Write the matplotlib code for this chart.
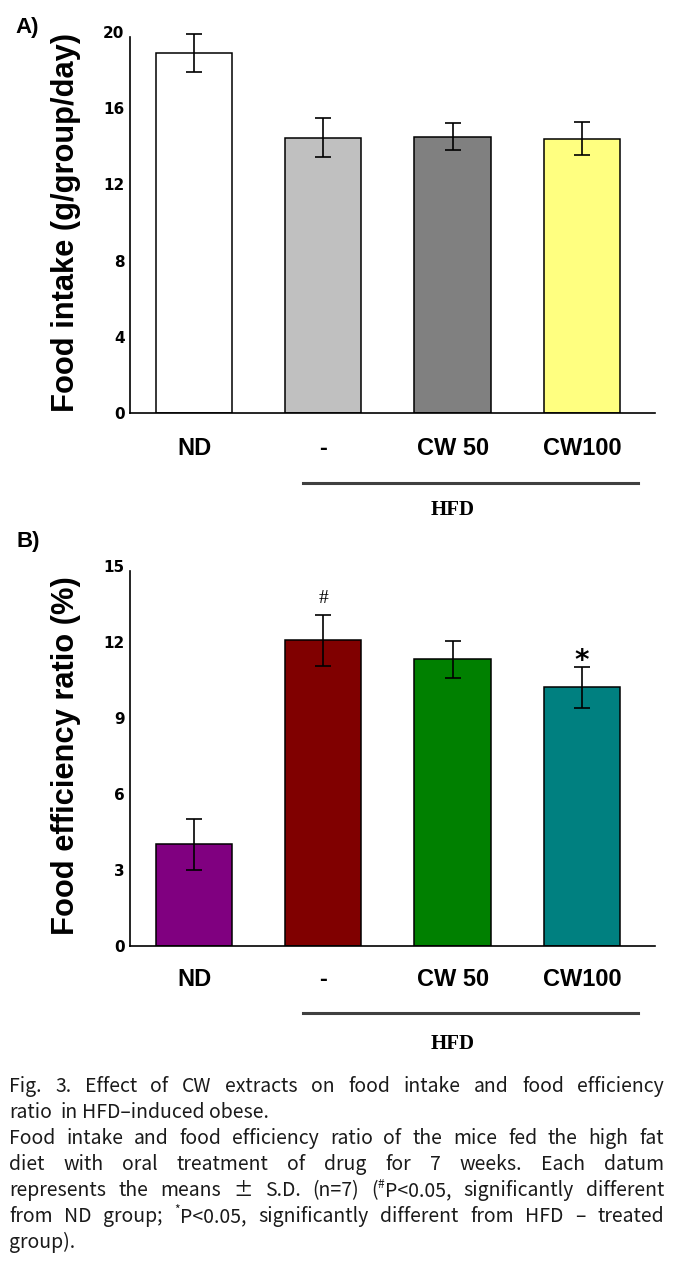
import matplotlib
matplotlib.use('Agg')
import matplotlib.pyplot as plt
import numpy as np

# data
groups = ['ND', '-', 'CW 50', 'CW100']
intake = [18.9, 14.45, 14.5, 14.4]
intake_sd = [1.0, 1.02, 0.7, 0.85]
fer = [4.0, 12.05, 11.3, 10.2]
fer_sd = [1.0, 1.02, 0.74, 0.82]
intake_colors = ['#ffffff', '#c0c0c0', '#808080', '#ffff80']
fer_colors = ['#800080', '#800000', '#008000', '#008080']
intake_ticks = [0, 4, 8, 12, 16, 20]
fer_ticks = [0, 3, 6, 9, 12, 15]

caption = [
    "Fig. 3. Effect of CW extracts on food intake and food efficiency",
    "ratio  in HFD\u2013induced obese.",
    "Food intake and food efficiency ratio of the mice fed the high fat",
    "diet with oral treatment of drug for 7 weeks. Each datum",
    "represents the means \u00b1 S.D. (n=7) (^#P<0.05, significantly different",
    "from ND group; ^*P<0.05, significantly different from HFD \u2013 treated",
    "group).",
]
justified = [True, False, True, True, True, True, False]

W_PX, H_PX = 673, 1261
fig = plt.figure(figsize=(W_PX / 100, H_PX / 100), dpi=100)
SANS = 'Liberation Sans'


def panel(ax, vals, sds, colors, ticks, spine_top, ylabel, lab_y, line_y, hfd_y):
    x = np.arange(len(groups))
    ax.bar(x, vals, width=0.59, color=colors, edgecolor='black', linewidth=1.1, zorder=2)
    ax.errorbar(x, vals, yerr=sds, fmt='none', ecolor='black', elinewidth=1.2,
                capsize=5.5, capthick=1.2, zorder=3)
    ax.set_xlim(-0.495, 3.565)
    ax.set_ylim(0, ticks[-1])
    ax.set_yticks(ticks)
    ax.set_xticks([])
    for s in ['top', 'right']:
        ax.spines[s].set_visible(False)
    ax.spines['left'].set_bounds(0, spine_top)
    ax.spines['left'].set_linewidth(1.2)
    ax.spines['bottom'].set_linewidth(1.2)
    ax.tick_params(axis='y', length=0, pad=4, labelsize=11)
    for lab in ax.get_yticklabels():
        lab.set_fontweight('bold')
        lab.set_family('DejaVu Sans')
    ax.set_ylabel(ylabel, fontsize=22.2, fontweight='bold', family=SANS)
    ax.yaxis.set_label_coords(-0.093, 0.5)
    tr = ax.get_xaxis_transform()
    for xi, g in zip(x, groups):
        ax.text(xi, lab_y, g, transform=tr, ha='center', va='center',
                fontsize=17, fontweight='bold', family=SANS)
    ax.plot([0.843, 3.43], [line_y, line_y], transform=tr, clip_on=False,
            color='#404040', lw=2.2)
    ax.text(2.0, hfd_y, 'HFD', transform=tr, ha='center', va='center',
            fontsize=15, fontweight='bold', family='Liberation Serif')


axA = fig.add_axes([130 / W_PX, 1 - 413 / H_PX, 525 / W_PX, 381 / H_PX])
panel(axA, intake, intake_sd, intake_colors, intake_ticks, 19.75,
      'Food intake (g/group/day)', -0.092, -0.184, -0.255)

axB = fig.add_axes([130 / W_PX, 1 - 945.7 / H_PX, 525 / W_PX, 380 / H_PX])
panel(axB, fer, fer_sd, fer_colors, fer_ticks, 14.8,
      'Food efficiency ratio (%)', -0.089, -0.177, -0.258)
axB.text(1, 13.52, '#', ha='center', va='baseline', fontsize=14,
         family='Liberation Serif')
axB.text(3, 10.94, '*', ha='center', va='baseline', fontsize=20,
         fontweight='bold', family='DejaVu Sans')

fig.text(15 / W_PX, 1 - 27 / H_PX, 'A)', fontsize=16, fontweight='bold',
         family=SANS, va='center')
fig.text(17 / W_PX, 1 - 541 / H_PX, 'B)', fontsize=16, fontweight='bold',
         family=SANS, va='center')

# caption, justified word by word
cap_font = ['Noto Sans CJK KR', 'DejaVu Sans']
cap_size = 14
renderer = fig.canvas.get_renderer()


def measure(s, size):
    if not s:
        return 0.0
    t = fig.text(0, 0, s, fontsize=size, family=cap_font)
    w = t.get_window_extent(renderer).width
    t.remove()
    return w


def segments(word):
    parts = word.split('^')
    segs = [(parts[0], False)]
    for p in parts[1:]:
        segs.append((p[0], True))
        segs.append((p[1:], False))
    return segs


space_w = measure('a a', cap_size) - measure('aa', cap_size)
x0, x1 = 9, 664
base0, dy = 1092, 26
sup_size = cap_size * 0.62
for i, (line, just) in enumerate(zip(caption, justified)):
    words = line.split(' ')
    segs_all = [segments(w) for w in words]
    widths = [sum(measure(s, sup_size if sup else cap_size) for s, sup in segs)
              for segs in segs_all]
    if just and len(words) > 1:
        gap = (x1 - x0 - sum(widths)) / (len(words) - 1)
    else:
        gap = space_w
    xp = x0
    yb = base0 + i * dy
    for segs, w in zip(segs_all, widths):
        xs = xp
        for s, sup in segs:
            if not s:
                continue
            size = sup_size if sup else cap_size
            yy = yb - (cap_size * 100 / 72 * 0.42 if sup else 0)
            fig.text(xs / W_PX, 1 - yy / H_PX, s, fontsize=size, family=cap_font,
                     ha='left', va='baseline', color='#1a1a1a')
            xs += measure(s, size)
        xp += w + gap

fig.savefig('out.png', dpi=100)
